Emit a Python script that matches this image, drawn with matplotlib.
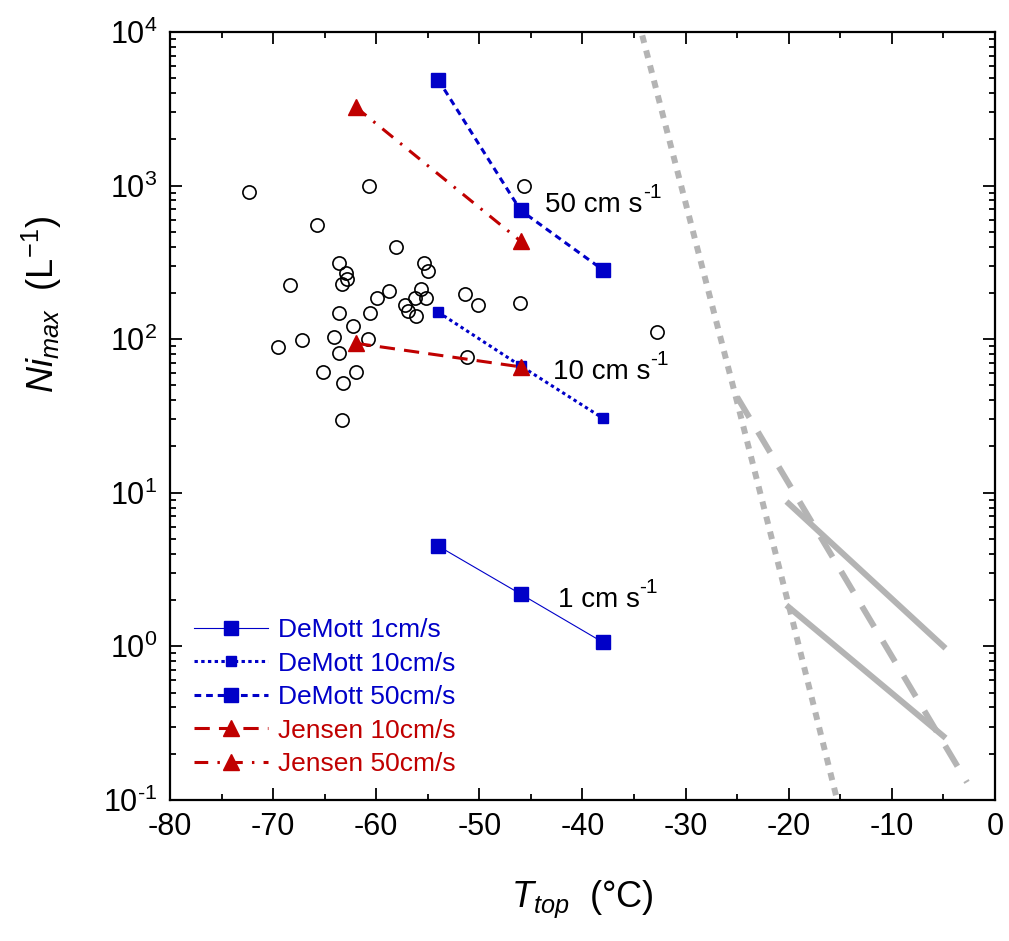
import matplotlib
matplotlib.use("Agg")
import matplotlib.pyplot as plt
from matplotlib.ticker import LogLocator, MultipleLocator, NullFormatter, FixedLocator, FixedFormatter

plt.rcParams['font.family'] = ['Liberation Sans', 'DejaVu Sans']
plt.rcParams['mathtext.fontset'] = 'custom'
plt.rcParams['mathtext.rm'] = 'Liberation Sans'
plt.rcParams['mathtext.it'] = 'Liberation Sans:italic'
plt.rcParams['mathtext.default'] = 'regular'

# ---------------- data ----------------
obs_T = [-72.3, -60.7, -45.7, -65.7, -58.1, -63.6, -62.9, -62.8, -63.3, -68.4,
         -55.4, -55.0, -58.8, -59.9, -55.7, -56.2, -55.2, -57.2, -56.9, -56.1,
         -51.4, -50.1, -46.1, -63.6, -60.6, -62.3, -64.1, -60.8, -67.2, -69.5,
         -63.6, -51.2, -65.2, -62.0, -63.2, -63.3, -32.8]
obs_N = [910, 990, 990, 551, 401, 314, 271, 247, 229, 224,
         312, 279, 206, 184, 213, 184, 186, 166, 153, 141,
         196, 166, 172, 148, 148, 122, 104, 100, 98, 89,
         81, 77, 61, 61, 52, 29.6, 111]

demott_T = [-54, -46, -38]
demott_1 = [4.5, 2.19, 1.06]
demott_10 = [150, 67, 30.5]
demott_50 = [4900, 690, 282]

jensen_T = [-62, -46]
jensen_10 = [94, 66]
jensen_50 = [3250, 435]

gray_dot_T = [-34.2, -25.0, -20.0, -15.3]
gray_dot_N = [9500, 39, 1.86, 0.1]
gray_dash_T = [-25.0, -2.7]
gray_dash_N = [42, 0.13]
gray_solid1_T = [-20.0, -5.0]
gray_solid1_N = [8.5, 1.0]
gray_solid2_T = [-20.0, -5.0]
gray_solid2_N = [1.8, 0.26]

x_ticks = [-80, -70, -60, -50, -40, -30, -20, -10, 0]
y_ticks = [0.1, 1, 10, 100, 1000, 10000]
y_tick_exps = ['-1', '0', '1', '2', '3', '4']
annot_labels = ['50 cm s', '10 cm s', '1 cm s']
annot_T = [-43.6, -42.9, -42.4]
annot_N = [748, 61, 2.0]

# ---------------- figure ----------------
BLUE = '#0000C8'
RED = '#C00000'
GRAY = '#B4B4B4'

fig = plt.figure(figsize=(10.09, 9.41), dpi=100)
ax = fig.add_axes([0.1685, 0.150, 0.8175, 0.816])

# gray reference lines
ax.plot(gray_dot_T, gray_dot_N, color=GRAY, lw=4.3, dashes=(1.3, 1.3), zorder=1)
ax.plot(gray_dash_T, gray_dash_N, color=GRAY, lw=4.3, dashes=(4, 2.8), zorder=1)
ax.plot(gray_solid1_T, gray_solid1_N, color=GRAY, lw=4.3, zorder=1)
ax.plot(gray_solid2_T, gray_solid2_N, color=GRAY, lw=4.3, zorder=1)

# observations
ax.plot(obs_T, obs_N, linestyle='none', marker='o', ms=9.5, mfc='none',
        mec='black', mew=1.2, zorder=2)

# model lines
ax.plot(demott_T, demott_1, color=BLUE, lw=0.8, marker='s', ms=10,
        label='DeMott 1cm/s', zorder=3)
ax.plot(demott_T, demott_10, color=BLUE, lw=2.2, dashes=(1.1, 1.1), marker='s',
        ms=6.5, label='DeMott 10cm/s', zorder=3)
ax.plot(demott_T, demott_50, color=BLUE, lw=2.2, dashes=(2.2, 1.6), marker='s',
        ms=10, label='DeMott 50cm/s', zorder=3)
ax.plot(jensen_T, jensen_10, color=RED, lw=2.2, dashes=(5, 3), marker='^',
        ms=11, label='Jensen 10cm/s', zorder=4)
ax.plot(jensen_T, jensen_50, color=RED, lw=2.2, dashes=(4.5, 3, 0.8, 3), marker='^',
        ms=11, label='Jensen 50cm/s', zorder=4)

for lab, t, n in zip(annot_labels, annot_T, annot_N):
    tx = ax.text(t, n, lab, fontsize=20, color='black', ha='left', va='center')
    ax.annotate('-1', xy=(1.0, 0.62), xycoords=tx, fontsize=15, color='black',
                ha='left', va='bottom')

ax.set_yscale('log')
ax.set_xlim(-80, 0)
ax.set_ylim(0.1, 1e4)
ax.set_xticks(x_ticks)
ax.set_xticklabels([str(v) for v in x_ticks])
ax.xaxis.set_minor_locator(MultipleLocator(5))
ax.yaxis.set_major_locator(FixedLocator(y_ticks))
ax.yaxis.set_major_formatter(FixedFormatter(
    [r'$10^{\mathrm{%s}}$' % e.replace('-', '\u2010') if e.startswith('-') else r'$10^{%s}$' % e
     for e in y_tick_exps]))
ax.yaxis.set_minor_locator(LogLocator(base=10, subs=range(2, 10), numticks=20))
ax.yaxis.set_minor_formatter(NullFormatter())

ax.tick_params(which='both', direction='in', top=True, right=True, width=1.3)
ax.tick_params(which='major', length=8.5, labelsize=22, pad=9)
ax.tick_params(which='minor', length=4.3)
for s in ax.spines.values():
    s.set_linewidth(1.6)

ax.set_xlabel(r'$\mathit{T}_{\mathit{top}}$  (°C)', fontsize=26, labelpad=26)
ax.set_ylabel(r'$\mathit{Ni}_{\mathit{max}}$  (L$^{-1}$)', fontsize=26)
ax.yaxis.set_label_coords(-0.128, 0.645)

leg = ax.legend(loc='lower left', bbox_to_anchor=(0.0, 0.0), fontsize=19,
                frameon=False, handlelength=2.8, handletextpad=0.4,
                labelspacing=0.36, labelcolor='linecolor')

fig.savefig('out.png', dpi=100)
